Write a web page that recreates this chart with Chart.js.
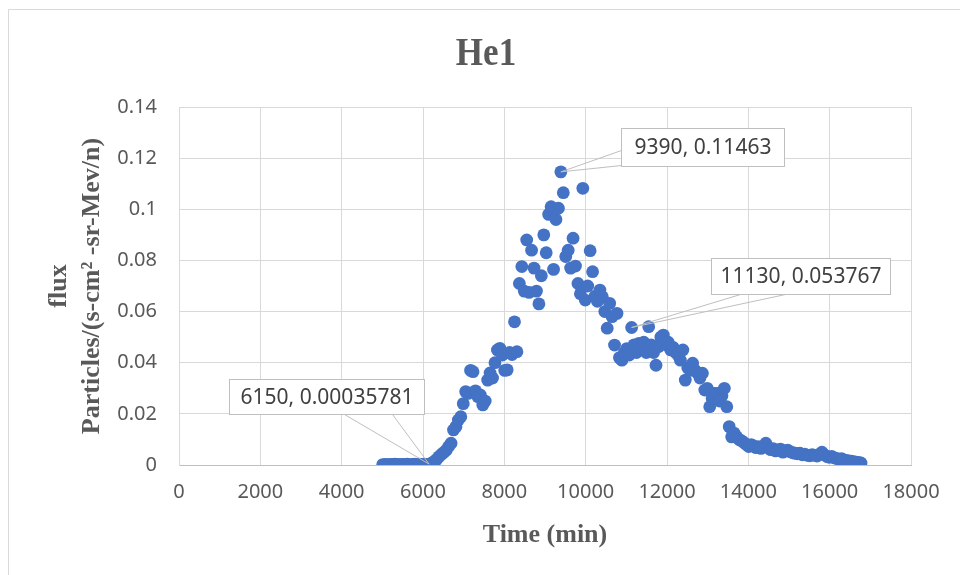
<!DOCTYPE html>
<html>
<head>
<meta charset="utf-8">
<script src="https://cdn.jsdelivr.net/npm/chart.js@4.4.1/dist/chart.umd.min.js"></script>
<style>
html, body { margin: 0; padding: 0; background: #fff; }
</style>
</head>
<body>
<canvas id="chart" width="960" height="575"></canvas>
<script>
// time (min)
const times = [
  5010, 5070, 5130, 5190, 5250, 5310, 5370, 5430, 5490, 5550,
  5610, 5670, 5730, 5790, 5850, 5910, 5970, 6030, 6090, 6150,
  6210, 6270, 6330, 6390, 6450, 6510, 6570, 6630, 6690, 6750,
  6810, 6870, 6930, 6990, 7050, 7110, 7170, 7230, 7290, 7350,
  7410, 7470, 7530, 7590, 7650, 7710, 7770, 7830, 7890, 7950,
  8010, 8070, 8130, 8190, 8250, 8310, 8370, 8430, 8490, 8550,
  8610, 8670, 8730, 8790, 8850, 8910, 8970, 9030, 9090, 9150,
  9210, 9270, 9330, 9390, 9450, 9510, 9570, 9630, 9690, 9750,
  9810, 9870, 9930, 9990, 10050, 10110, 10170, 10230, 10290, 10350,
  10410, 10470, 10530, 10590, 10650, 10710, 10770, 10830, 10890, 10950,
  11010, 11070, 11130, 11190, 11250, 11310, 11370, 11430, 11490, 11550,
  11610, 11670, 11730, 11790, 11850, 11910, 11970, 12030, 12090, 12150,
  12210, 12270, 12330, 12390, 12450, 12510, 12570, 12630, 12690, 12750,
  12810, 12870, 12930, 12990, 13050, 13110, 13170, 13230, 13290, 13350,
  13410, 13470, 13530, 13590, 13650, 13710, 13770, 13830, 13890, 13950,
  14010, 14070, 14130, 14190, 14250, 14310, 14370, 14430, 14490, 14550,
  14610, 14670, 14730, 14790, 14850, 14910, 14970, 15030, 15090, 15150,
  15210, 15270, 15330, 15390, 15450, 15510, 15570, 15630, 15690, 15750,
  15810, 15870, 15930, 15990, 16050, 16110, 16170, 16230, 16290, 16350,
  16410, 16470, 16530, 16590, 16650, 16710, 16770
];

// flux Particles/(s-cm2-sr-Mev/n)
const flux = [
  0.00018, 0.00022, 0.00015, 0.00027, 0.00020, 0.00031, 0.00024, 0.00019, 0.00028, 0.00022,
  0.00030, 0.00017, 0.00026, 0.00033, 0.00021, 0.00029, 0.00024, 0.00031, 0.00027, 0.00035781,
  0.00071, 0.00135, 0.0021, 0.0032, 0.0041, 0.0049, 0.0058, 0.0072, 0.0085, 0.0137,
  0.0150, 0.0176, 0.0189, 0.0240, 0.0287, 0.0280, 0.0370, 0.0365, 0.0290, 0.0267,
  0.0274, 0.0235, 0.0250, 0.0332, 0.0360, 0.0340, 0.0400, 0.0450, 0.0456, 0.0430,
  0.0370, 0.0372, 0.0440, 0.0432, 0.0560, 0.0443, 0.0710, 0.0776, 0.0680, 0.0880,
  0.0675, 0.0840, 0.0770, 0.0680, 0.0630, 0.0740, 0.0900, 0.0830, 0.0980, 0.1010,
  0.0765, 0.0960, 0.1004, 0.11463, 0.1065, 0.0815, 0.0840, 0.0770, 0.0887, 0.0778,
  0.0710, 0.0670, 0.1082, 0.0645, 0.0700, 0.0838, 0.0756, 0.0660, 0.0640, 0.0684,
  0.0658, 0.0600, 0.0535, 0.0632, 0.0580, 0.0469, 0.0593, 0.0420, 0.0410, 0.0440,
  0.0455, 0.0430, 0.053767, 0.0470, 0.0440, 0.0476, 0.0450, 0.0480, 0.0440, 0.0541,
  0.0470, 0.0440, 0.0390, 0.0463, 0.0500, 0.0508, 0.0470, 0.0480, 0.0450, 0.0460,
  0.0440, 0.0430, 0.0410, 0.0450, 0.0332, 0.0380, 0.0370, 0.0398, 0.0370, 0.0360,
  0.0340, 0.0359, 0.0293, 0.0300, 0.0228, 0.0260, 0.0280, 0.0280, 0.0250, 0.0270,
  0.0300, 0.0228, 0.0150, 0.0110, 0.0125, 0.0110, 0.0100, 0.0095, 0.0088, 0.0080,
  0.0072, 0.0080, 0.0075, 0.0068, 0.0072, 0.0065, 0.0070, 0.0085, 0.0068, 0.0060,
  0.0064, 0.0055, 0.0059, 0.0062, 0.0050, 0.0055, 0.0058, 0.0052, 0.0048, 0.0046,
  0.0044, 0.0046, 0.0040, 0.0042, 0.0038, 0.0036, 0.0040, 0.0038, 0.0035, 0.0042,
  0.0050, 0.0040, 0.0033, 0.0030, 0.0034, 0.0028, 0.0026, 0.0022, 0.0025, 0.0020,
  0.0018, 0.0016, 0.0015, 0.0013, 0.0011, 0.0010, 0.0008
];

// points that carry a data label
const labelled = [6150, 9390, 11130];

// x ticks 0..18000 by 2000, y ticks 0..0.14 by 0.02
const xTickStep = 2000, xMax = 18000;
const yTickStep = 0.02, yMax = 0.14;

// callout box placement, relative to its point (dx, dy = box top-left)
// wedge = two points on the box edge the pointer lines start from
const calloutStyle = [
  { dx: -200, dy: -85, w: 195, h: 35, wedge: [[115, 35], [163, 35]] },
  { dx: 60, dy: -44, w: 163, h: 38, wedge: [[0, 22], [0, 37]] },
  { dx: 79, dy: -70, w: 179, h: 36, wedge: [[29, 36], [74, 36]] }
];

const grey = '#595959';
const tickFont = { family: '"Noto Sans"', size: 20 };

const decor = {
  id: 'decor',
  beforeDraw(chart) {
    const c = chart.ctx;
    c.save();
    c.fillStyle = '#fff';
    c.fillRect(0, 0, chart.width, chart.height);
    // outer chart frame
    c.strokeStyle = '#d9d9d9';
    c.lineWidth = 1;
    c.beginPath();
    c.moveTo(8.5, chart.height);
    c.lineTo(8.5, 9.5);
    c.lineTo(chart.width, 9.5);
    c.stroke();
    // title, a little taller than wide like the original
    c.fillStyle = grey;
    c.font = 'bold 35px "Liberation Serif"';
    c.textAlign = 'center';
    c.textBaseline = 'middle';
    c.translate(486, 55);
    c.scale(1, 1.15);
    c.fillText('He1', 0, 0);
    c.restore();
  },
  afterDatasetsDraw(chart) {
    const c = chart.ctx;
    const xs = chart.scales.x, ys = chart.scales.y;
    c.save();
    c.font = '21px "Noto Sans"';
    c.textAlign = 'center';
    c.textBaseline = 'middle';
    labelled.forEach((t, k) => {
      const i = times.indexOf(t);
      const s = calloutStyle[k];
      const px = xs.getPixelForValue(times[i]);
      const py = ys.getPixelForValue(flux[i]);
      const bx = Math.round(px + s.dx) + 0.5;
      const by = Math.round(py + s.dy) + 0.5;
      c.strokeStyle = '#bfbfbf';
      c.lineWidth = 1;
      c.beginPath();
      c.moveTo(bx + s.wedge[0][0], by + s.wedge[0][1]);
      c.lineTo(px, py);
      c.lineTo(bx + s.wedge[1][0], by + s.wedge[1][1]);
      c.stroke();
      c.fillStyle = '#fff';
      c.fillRect(bx, by, s.w, s.h);
      c.strokeRect(bx, by, s.w, s.h);
      c.fillStyle = '#404040';
      c.fillText(times[i] + ', ' + flux[i], bx + s.w / 2, by + s.h / 2 + 1);
    });
    c.restore();
  }
};

new Chart(document.getElementById('chart').getContext('2d'), {
  type: 'scatter',
  data: {
    datasets: [{
      label: 'He1',
      data: times.map((t, i) => ({ x: t, y: flux[i] })),
      backgroundColor: '#4472C4',
      borderColor: '#4472C4',
      borderWidth: 0,
      pointRadius: 6.4,
      pointHoverRadius: 6.4
    }]
  },
  options: {
    responsive: false,
    animation: false,
    devicePixelRatio: 1,
    layout: { padding: { top: 107, right: 49, bottom: 0, left: 0 } },
    scales: {
      x: {
        type: 'linear',
        min: 0,
        max: xMax,
        afterFit: s => { s.height = 110; },
        ticks: {
          stepSize: xTickStep,
          color: grey,
          font: tickFont,
          padding: 15,
          maxRotation: 0,
          callback: v => String(v)
        },
        grid: { color: '#d9d9d9', drawTicks: false },
        border: { color: '#bfbfbf' },
        title: {
          display: true,
          text: 'Time (min)',
          color: grey,
          font: { family: '"Liberation Serif"', size: 26, weight: 'bold', lineHeight: 1.2 },
          padding: { top: 0, bottom: 24 }
        }
      },
      y: {
        min: 0,
        max: yMax,
        afterFit: s => { s.width = 179; },
        ticks: {
          stepSize: yTickStep,
          color: grey,
          font: tickFont,
          padding: 22,
          callback: v => String(+v.toFixed(2))
        },
        grid: { color: '#d9d9d9', drawTicks: false },
        border: { color: '#d9d9d9' },
        title: {
          display: true,
          text: ['flux', 'Particles/(s-cm\u00B2 -sr-Mev/n)'],
          color: grey,
          font: { family: '"Liberation Serif"', size: 26, weight: 'bold', lineHeight: 1.3 },
          padding: { top: 42, bottom: 0 }
        }
      }
    },
    plugins: {
      legend: { display: false },
      tooltip: { enabled: false }
    }
  },
  plugins: [decor]
});
</script>
</body>
</html>
